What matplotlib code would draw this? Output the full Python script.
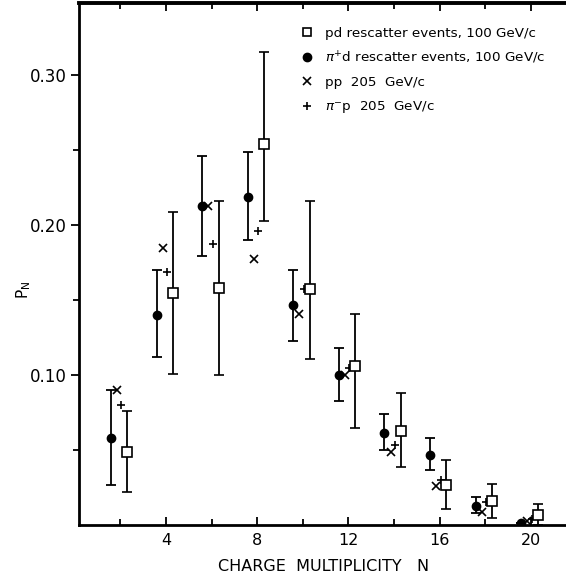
import matplotlib

matplotlib.use("Agg")
import matplotlib.pyplot as plt
import numpy as np
from matplotlib.lines import Line2D

# Charge multiplicity N
mult = [2, 4, 6, 8, 10, 12, 14, 16, 18, 20]

# pd rescatter events, 100 GeV/c (open squares)
pd_val = [0.049, 0.155, 0.158, 0.254, 0.1575, 0.106, 0.063, 0.0265, 0.016, 0.007]
pd_hi = [0.076, 0.2085, 0.216, 0.3155, 0.216, 0.141, 0.088, 0.0435, 0.0275, 0.014]
pd_lo = [0.022, 0.1005, 0.0997, 0.2025, 0.111, 0.065, 0.039, 0.011, 0.005, 0.0]

# pi+ d rescatter events, 100 GeV/c (filled circles)
pid_val = [0.058, 0.140, 0.2125, 0.2185, 0.147, 0.100, 0.0615, 0.0465, 0.013, 0.0015]
pid_hi = [0.090, 0.170, 0.246, 0.2485, 0.170, 0.118, 0.074, 0.0577, 0.0185, 0.0015]
pid_lo = [0.027, 0.112, 0.179, 0.190, 0.123, 0.083, 0.050, 0.0365, 0.008, 0.0015]

# pp 205 GeV/c (crosses)
pp_val = [0.090, 0.1845, 0.2125, 0.1775, 0.141, 0.0997, 0.0486, 0.0259, 0.0088, 0.0025]

# pi- p 205 GeV/c (plus signs)
pimp_val = [0.080, 0.1685, 0.1875, 0.196, 0.1575, 0.105, 0.0532, 0.0303, 0.0155, 0.0043]

N = np.array(mult, dtype=float)

fig = plt.figure(figsize=(5.66, 5.73), dpi=100)
ax = fig.add_axes([79 / 566, 48 / 573, 489 / 566, 522 / 573])

# circles
yerr = [np.array(pid_val) - np.array(pid_lo), np.array(pid_hi) - np.array(pid_val)]
ax.errorbar(N - 0.42, pid_val, yerr=yerr, fmt="o", color="black", ms=6,
            elinewidth=1.3, capsize=3.5, capthick=1.3)

# squares
yerr = [np.array(pd_val) - np.array(pd_lo), np.array(pd_hi) - np.array(pd_val)]
ax.errorbar(N + 0.3, pd_val, yerr=yerr, fmt="s", color="black", mfc="white",
            mec="black", mew=1.2, ms=6.5, elinewidth=1.3, capsize=3.5, capthick=1.3,
            zorder=3)

ax.plot(N - 0.15, pp_val, "x", color="black", ms=5.5, mew=1.2)
ax.plot(N + 0.04, pimp_val, "+", color="black", ms=6, mew=1.2)

ax.set_xlim(0.18, 21.63)
ax.set_ylim(0, 0.348)

ax.set_xticks([4, 8, 12, 16, 20])
ax.set_xticks([2, 6, 10, 14, 18], minor=True)
ax.set_yticks([0.10, 0.20, 0.30])
ax.set_yticklabels(["0.10", "0.20", "0.30"])
ax.set_yticks([0.05, 0.15, 0.25], minor=True)

ax.tick_params(axis="x", which="both", direction="in", top=True, labelsize=11.5,
               width=1.3, pad=6)
ax.tick_params(axis="x", which="major", length=6)
ax.tick_params(axis="x", which="minor", length=4)
ax.tick_params(axis="y", which="both", direction="out", right=True, labelsize=12,
               width=1.3, pad=3)
ax.tick_params(axis="y", which="major", length=6)
ax.tick_params(axis="y", which="minor", length=4)

for s in ["left", "bottom"]:
    ax.spines[s].set_linewidth(2)
ax.spines["top"].set_linewidth(2.8)
ax.spines["right"].set_visible(False)

ax.set_xlabel("CHARGE  MULTIPLICITY   N", fontsize=11.5, labelpad=8)
ax.set_ylabel(r"P$_\mathrm{N}$", fontsize=11)
ax.yaxis.set_label_coords(-0.095, 0.45)

handles = [
    Line2D([], [], marker="s", ls="none", color="black", mfc="white", ms=6, mew=1.2),
    Line2D([], [], marker="o", ls="none", color="black", ms=6),
    Line2D([], [], marker="x", ls="none", color="black", ms=5.5, mew=1.2),
    Line2D([], [], marker="+", ls="none", color="black", ms=6, mew=1.2),
]
labels = [
    "pd rescatter events, 100 GeV/c",
    r"$\pi^{+}$d rescatter events, 100 GeV/c",
    "pp  205  GeV/c",
    r"$\pi^{-}$p  205  GeV/c",
]
ax.legend(handles, labels, loc="upper left", bbox_to_anchor=(0.445, 0.965),
          frameon=False, fontsize=9.7, handlelength=0.8, handletextpad=0.9,
          labelspacing=0.75, borderaxespad=0)

fig.savefig("out.png", dpi=100)
